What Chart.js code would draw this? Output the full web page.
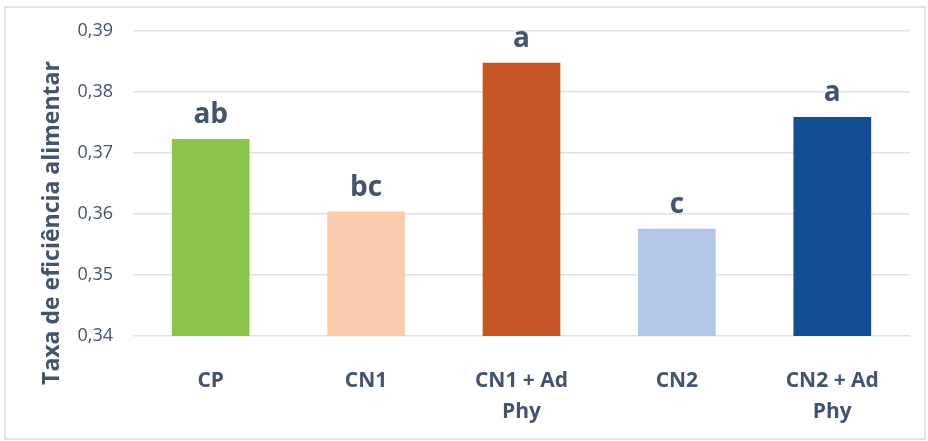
<!DOCTYPE html>
<html>
<head>
<meta charset="utf-8">
<script src="https://cdn.jsdelivr.net/npm/chart.js@4"></script>
<style>
  html, body { margin: 0; padding: 0; background: #fff; }
  #frame { position: absolute; left: 4px; top: 6px; width: 918px; height: 430px; border: 2px solid #DEE3EA; }
  #wrap { position: absolute; left: 0; top: 0; width: 928px; height: 441px; }
</style>
</head>
<body>
<div id="frame"></div>
<div id="wrap"><canvas id="bar_chart" width="928" height="441"></canvas></div>
<script>
const categories = ['CP', 'CN1', ['CN1 + Ad', 'Phy'], 'CN2', ['CN2 + Ad', 'Phy']];
const taxa = [0.3723, 0.3604, 0.3848, 0.3576, 0.3759];
const letras = ['ab', 'bc', 'a', 'c', 'a'];
const cores = ['#8DC44A', '#F8CBAD', '#C45525', '#B4C6E6', '#144E94'];
const yTitle = 'Taxa de eficiência alimentar';

const textColor = '#44546A';
const fontFam = "'Open Sans', 'DejaVu Sans', sans-serif";

// letters above each bar + y axis title
const letrasPlugin = {
  id: 'letras',
  afterDatasetsDraw(chart) {
    const ctx = chart.ctx;
    const meta = chart.getDatasetMeta(0);
    ctx.save();
    ctx.fillStyle = textColor;
    ctx.font = 'bold 28px ' + fontFam;
    ctx.textAlign = 'center';
    ctx.textBaseline = 'bottom';
    meta.data.forEach((bar, i) => {
      ctx.fillText(letras[i], bar.x, bar.y - 10);
    });
    // axis title, rotated
    ctx.translate(52, 223);
    ctx.rotate(-Math.PI / 2);
    ctx.font = 'bold 23px ' + fontFam;
    ctx.textBaseline = 'middle';
    ctx.fillText(yTitle, 0, 0);
    ctx.restore();
  }
};

const bar_chart = document.getElementById('bar_chart');

new Chart(bar_chart, {
  type: 'bar',
  data: {
    labels: categories,
    datasets: [{
      data: taxa,
      backgroundColor: cores,
      borderWidth: 0,
      barPercentage: 0.5,
      categoryPercentage: 1
    }]
  },
  options: {
    responsive: false,
    animation: false,
    layout: { padding: { top: 31, right: 18, left: 0, bottom: 0 } },
    plugins: {
      legend: { display: false },
      tooltip: { enabled: false }
    },
    scales: {
      x: {
        grid: { display: false },
        border: { display: false },
        ticks: {
          color: textColor,
          font: { family: fontFam, size: 21, weight: 'bold', lineHeight: 1.45 },
          padding: 22,
          maxRotation: 0
        },
        afterFit(scale) { scale.height = 105; }
      },
      y: {
        min: 0.34,
        max: 0.39,
        grid: { color: '#DEE3EA', lineWidth: 1.5, drawTicks: false },
        border: { display: false },
        ticks: {
          stepSize: 0.01,
          color: textColor,
          padding: 20,
          font: { family: fontFam, size: 18 },
          callback: v => v.toFixed(2).replace('.', ',')
        },
        afterFit(scale) { scale.width = 133; }
      }
    }
  },
  plugins: [letrasPlugin]
});
</script>
</body>
</html>
